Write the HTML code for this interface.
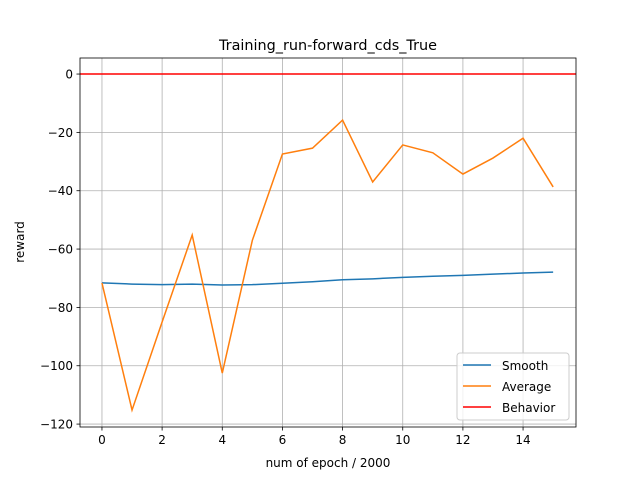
<!DOCTYPE html>
<html><head><meta charset="utf-8"><style>
body{margin:0;background:#fff;}
svg text{font-family:"DejaVu Sans","Liberation Sans",sans-serif;}
</style></head><body>
<svg id="chart" width="640" height="480" xmlns="http://www.w3.org/2000/svg">
<rect width="640" height="480" fill="#fff"/>
<text x="328" y="50" font-size="14.4" text-anchor="middle">Training_run-forward_cds_True</text>
<g id="grid"></g>
<g id="series"></g>
<rect x="80" y="58" width="496" height="369" fill="none" stroke="#000" stroke-width="0.8"/>
<g id="ticks"></g>
<text x="328" y="467" font-size="12" text-anchor="middle">num of epoch / 2000</text>
<text transform="translate(24,242) rotate(-90)" font-size="12" text-anchor="middle">reward</text>
<g>
<rect x="457" y="353" width="112" height="67" rx="3" fill="#fff" fill-opacity="0.8" stroke="#ccc"/>
<line x1="463" y1="365" x2="491" y2="365" stroke="#1f77b4" stroke-width="1.5"/>
<text x="502" y="370" font-size="12">Smooth</text>
<line x1="463" y1="386" x2="491" y2="386" stroke="#ff7f0e" stroke-width="1.5"/>
<text x="502" y="391" font-size="12">Average</text>
<line x1="463" y1="407" x2="491" y2="407" stroke="#ff0000" stroke-width="1.5"/>
<text x="502" y="412" font-size="12">Behavior</text>
</g>
</svg>
<script>
const epochs=[0,1,2,3,4,5,6,7,8,9,10,11,12,13,14,15];
const smoothValues=[-71.6,-72.0,-72.2,-72.0,-72.3,-72.2,-71.7,-71.2,-70.5,-70.2,-69.7,-69.3,-69.0,-68.6,-68.2,-67.9];
const averageValues=[-71.6,-115.2,-85,-55.2,-102.5,-57,-27.4,-25.4,-15.8,-37,-24.3,-27,-34.3,-28.8,-22,-38.7];
const behaviorValue=[0];
const xTicks=[0,2,4,6,8,10,12,14];
const yTicks=[0,-20,-40,-60,-80,-100,-120];
const X0=80,X1=576,Y0=58,Y1=427,xmin=-0.73,xmax=15.76,ymin=-121,ymax=5.5;
const sx=v=>X0+(v-xmin)/(xmax-xmin)*(X1-X0);
const sy=v=>Y1-(v-ymin)/(ymax-ymin)*(Y1-Y0);
const NS="http://www.w3.org/2000/svg";
function mk(t,a,p){const e=document.createElementNS(NS,t);for(const k in a)e.setAttribute(k,a[k]);p.appendChild(e);return e;}
const grid=document.getElementById('grid'),ticks=document.getElementById('ticks'),ser=document.getElementById('series');
xTicks.forEach(v=>{const x=sx(v);
const g=mk('line',{x1:x,x2:x,y1:Y0,y2:Y1,stroke:'#b0b0b0','stroke-width':0.8},grid);


mk('line',{x1:x,x2:x,y1:Y1,y2:Y1+3.5,stroke:'#000','stroke-width':0.8},ticks);
const t=mk('text',{x:x,y:Y1+17,'font-size':12,'text-anchor':'middle'},ticks);t.textContent=v;

});
yTicks.forEach(v=>{const y=sy(v);
const g=mk('line',{x1:X0,x2:X1,y1:y,y2:y,stroke:'#b0b0b0','stroke-width':0.8},grid);


mk('line',{x1:X0-3.5,x2:X0,y1:y,y2:y,stroke:'#000','stroke-width':0.8},ticks);
const t=mk('text',{x:X0-7,y:y+4.5,'font-size':12,'text-anchor':'end'},ticks);t.textContent=v===0?'0':'\u2212'+Math.abs(v);

});
function line(vals,color,name){const p=mk('polyline',{points:vals.map((v,i)=>sx(epochs[i])+','+sy(v)).join(' '),fill:'none',stroke:color,'stroke-width':1.5},ser);

}
line(smoothValues,'#1f77b4','smooth-line');
line(averageValues,'#ff7f0e','average-line');
const b=mk('line',{x1:X0,x2:X1,y1:sy(behaviorValue[0]),y2:sy(behaviorValue[0]),stroke:'#ff0000','stroke-width':1.5},ser);


</script>
</body></html>
